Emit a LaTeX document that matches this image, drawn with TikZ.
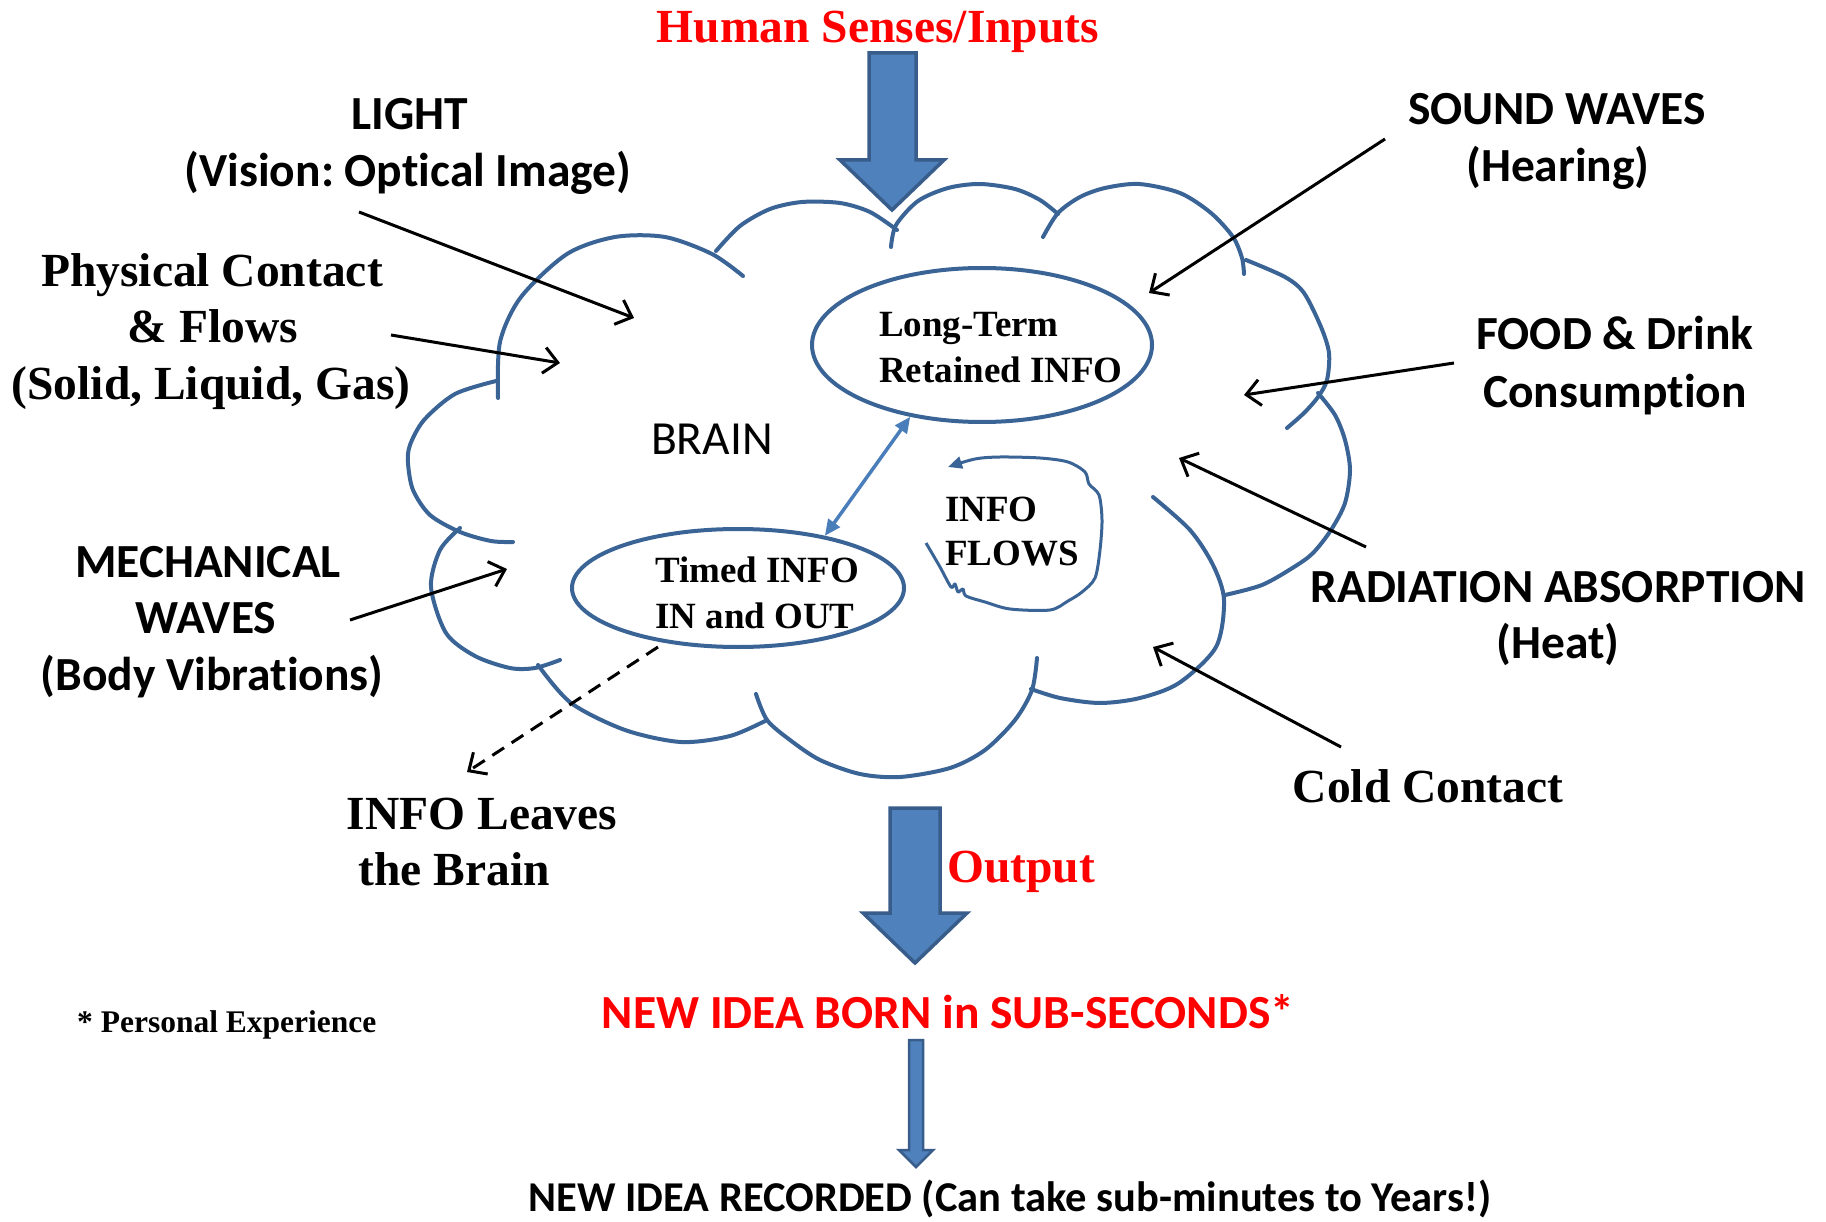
\documentclass[tikz,border=0pt]{standalone}
\usepackage{fontspec}
\setmainfont{Liberation Serif}
\newfontfamily\calfont[Ligatures=NoCommon]{Carlito}
\usetikzlibrary{arrows.meta,shapes.geometric}
\definecolor{cloudblue}{HTML}{3B6496}
\definecolor{fillblue}{HTML}{4F81BD}
\definecolor{edgeblue}{HTML}{385D8A}
\definecolor{lightblue}{HTML}{4A7EBB}
\definecolor{redtxt}{HTML}{FF0000}
\begin{document}
\frenchspacing
\begin{tikzpicture}[x=1pt,y=-1pt,
  ser/.style={font=\fontsize{47.5}{57}\selectfont\bfseries, inner sep=0pt, anchor=base},
  sers/.style={font=\fontsize{37}{44}\selectfont\bfseries, inner sep=0pt, anchor=base west},
  cal/.style={font=\calfont\fontsize{47.5}{57}\selectfont\bfseries, inner sep=0pt, anchor=base},
  lobe/.style={draw=cloudblue, line width=4pt, line cap=round},
  ell/.style={draw=cloudblue, line width=4pt, ellipse, inner sep=0pt},
  inarrow/.style={black, line width=3pt, -{Straight Barb[length=14pt,width=26pt]}},
  blockarrow/.style={fill=fillblue, draw=edgeblue, line width=3.5pt, line join=miter},
  dbl/.style={lightblue, line width=3.5pt, {Triangle[length=16pt,width=14pt]}-{Triangle[length=16pt,width=14pt]}},
  flowloop/.style={cloudblue, line width=3pt, line join=round, -{Triangle[length=14pt,width=12pt]}}
]
\fill[white] (0,0) rectangle (1826,1222);
\useasboundingbox (0,0) rectangle (1826,1222);

% ---------- cloud lobes ----------
\draw[lobe] plot[smooth] coordinates {(496,381) (455,394) (424,420) (410,445) (408,463) (413,490) (430,515) (460,532) (491,541) (513,542)};
\draw[lobe] plot[smooth] coordinates {(498,398) (500,342) (521,297) (567,254) (615,237) (665,237) (712,254) (743,276)};
\draw[lobe] plot[smooth] coordinates {(716,251) (740,226) (770,209) (802,202) (840,203) (870,212) (897,230)};
\draw[lobe] plot[smooth] coordinates {(891,247) (896,225) (918,201) (948,188) (980,184) (1015,189) (1040,200) (1058,214)};
\draw[lobe] plot[smooth] coordinates {(1043,237) (1058,213) (1080,197) (1105,188) (1139,184) (1180,193) (1211,213) (1233,237) (1242,258) (1244,274)};
\draw[lobe] plot[smooth] coordinates {(1246,260) (1285,277) (1304,293) (1321,327) (1329,353) (1327,380) (1318,397) (1304,413) (1287,428)};
\draw[lobe] plot[smooth] coordinates {(1318,393) (1335,415) (1345,440) (1350,470) (1345,503) (1331,530) (1313,553) (1294,567) (1262,585) (1225,595)};
\draw[lobe] plot[smooth] coordinates {(1153,497) (1190,530) (1213,565) (1224,600) (1216,647) (1179,683) (1140,698) (1100,703) (1060,698) (1031,689)};
\draw[lobe] plot[smooth] coordinates {(1037,658) (1032,690) (1015,720) (985,750) (950,768) (900,777) (860,774) (820,760) (790,740) (767,720) (756,694)};
\draw[lobe] plot[smooth] coordinates {(538,665) (571,703) (625,730) (681,742) (730,736) (767,720)};
\draw[lobe] plot[smooth] coordinates {(460,528) (440,550) (431,587) (446,633) (475,656) (510,668) (535,668) (560,660)};

% ---------- ellipses ----------
\node[ell, minimum width=340pt, minimum height=154pt] (lt) at (982,345) {};
\node[ell, minimum width=332pt, minimum height=118pt] (ti) at (738,588) {};
\node[sers] (lt1) at (879,337) {Long-Term};
\node[sers] (lt2) at (879,383) {Retained INFO};
\node[sers] (ti1) at (655,582) {Timed INFO};
\node[sers] (ti2) at (655,628) {IN and OUT};
\draw[dbl] (lt.225) -- (ti.31);

% ---------- info flows ----------
\node[sers] (if1) at (945,521) {INFO};
\node[sers] (if2) at (945,565) {FLOWS};
\coordinate (ifs) at (926,543);
\coordinate (ife) at (948,467);
\draw[flowloop] plot[smooth, tension=0.5] coordinates {(ifs) (940,567) (951,587) (955,584) (958,592) (963,589) (966,596) (985,602) (1010,609) (1050,610) (1068,601) (1082,592) (1095,578) (1100,550) (1102,520) (1099,495) (1089,484) (1085,472) (1068,462) (1040,458) (1000,457) (975,459) (ife)};

\node[font=\calfont\fontsize{47.5}{57}\selectfont, inner sep=0pt, anchor=base] (brain) at (712,454) {BRAIN};

% ---------- block arrows ----------
\draw[blockarrow] (869,53) -- (916,53) -- (916,160) -- (944,160) -- (892,210) -- (840,160) -- (869,160) -- cycle;
\draw[blockarrow] (890,808) -- (940,808) -- (940,913) -- (967,913) -- (915,963) -- (863,913) -- (890,913) -- cycle;
\draw[blockarrow, line width=2.5pt] (909,1040) -- (923,1040) -- (923,1150) -- (933,1150) -- (916,1167) -- (899,1150) -- (909,1150) -- cycle;

% ---------- texts ----------
\node[ser, text=redtxt] (human) at (878,43) {Human Senses/Inputs};
\node[cal] (light1) at (410,130) {LIGHT};
\node[cal] (light2) at (408,187) {(Vision: Optical Image)};
\node[ser] (phys1) at (212,287) {Physical Contact};
\node[ser] (phys2) at (213,343) {\& Flows};
\node[ser] (phys3) at (211,400) {(Solid, Liquid, Gas)};
\node[cal] (mech1) at (208,577) {MECHANICAL};
\node[cal] (mech2) at (206,633) {WAVES};
\node[cal] (mech3) at (212,690) {(Body Vibrations)};
\node[ser] (leave1) at (482,829) {INFO Leaves};
\node[ser] (leave2) at (454,885) {the Brain};
\node[cal] (sound1) at (1557,125) {SOUND WAVES};
\node[cal] (sound2) at (1558,182) {(Hearing)};
\node[cal] (food1) at (1615,350) {FOOD \& Drink};
\node[cal] (food2) at (1615,407) {Consumption};
\node[cal] (rad1) at (1558,602) {RADIATION ABSORPTION};
\node[cal] (rad2) at (1558,658) {(Heat)};
\node[ser] (cold) at (1428,802) {Cold Contact};
\node[ser, text=redtxt, anchor=base west] (output) at (947,882) {Output};
\node[cal, text=redtxt] (born) at (948,1028) {NEW IDEA BORN in SUB-SECONDS*};
\node[font=\fontsize{31.5}{38}\selectfont\bfseries, inner sep=0pt, anchor=base west] (pers) at (77,1032) {* Personal Experience};
\node[font=\calfont\fontsize{42.5}{50}\selectfont\bfseries, inner sep=0pt, anchor=base] (rec) at (1010,1211) {NEW IDEA RECORDED (Can take sub-minutes to Years!)};

% ---------- input arrows ----------
\coordinate (lightS) at (359,212);  \coordinate (lightE) at (634,318);
\coordinate (physS) at (391,335);   \coordinate (physE) at (560,363);
\coordinate (mechS) at (350,620);   \coordinate (mechE) at (507,569);
\coordinate (soundS) at (1385,139); \coordinate (soundE) at (1149,293);
\coordinate (foodS) at (1454,363);  \coordinate (foodE) at (1244,395);
\coordinate (radS) at (1366,547);   \coordinate (radE) at (1179,458);
\coordinate (coldS) at (1341,747);  \coordinate (coldE) at (1153,647);
\coordinate (leaveS) at (658,647);  \coordinate (leaveE) at (467,772);
\draw[inarrow] (lightS) -- (lightE);
\draw[inarrow] (physS) -- (physE);
\draw[inarrow] (mechS) -- (mechE);
\draw[inarrow] (soundS) -- (soundE);
\draw[inarrow] (foodS) -- (foodE);
\draw[inarrow] (radS) -- (radE);
\draw[inarrow] (coldS) -- (coldE);
\draw[inarrow, dash pattern=on 14pt off 9pt] (leaveS) -- (leaveE);
\end{tikzpicture}
\end{document}
